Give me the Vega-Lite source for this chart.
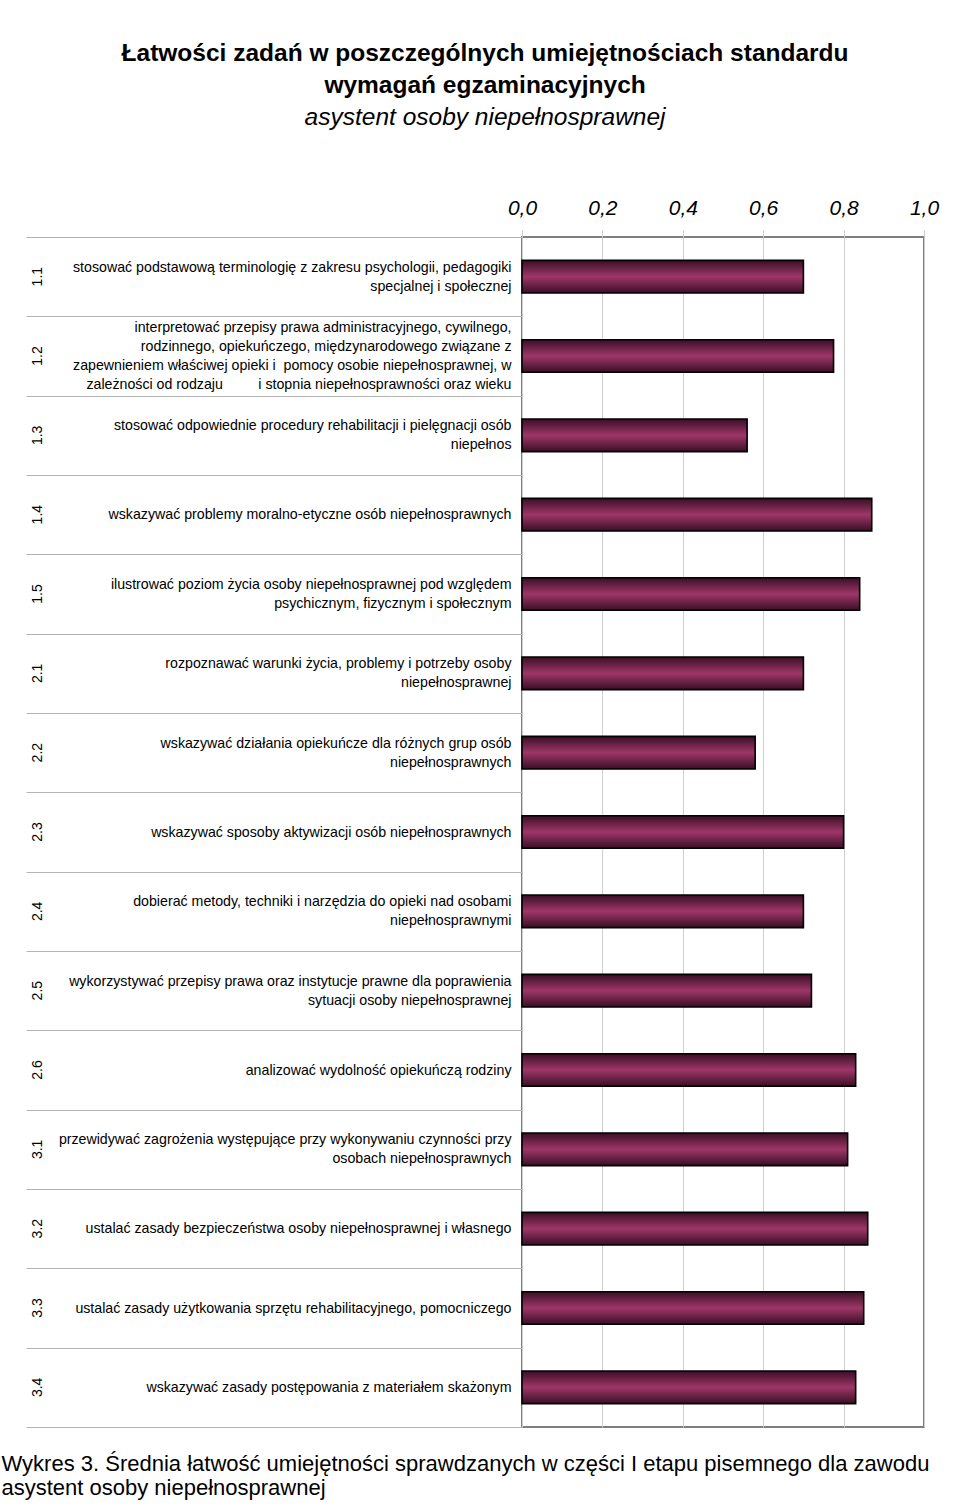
{
  "$schema": "https://vega.github.io/schema/vega-lite/v6.json",
  "background": "white",
  "padding": {"left": 1, "top": 40, "right": 20, "bottom": 4},
  "config": {
    "font": "Liberation Sans",
    "view": {"stroke": "#7f7f7f", "strokeWidth": 2}
  },
  "title": {
    "text": ["Wykres 3. Średnia łatwość umiejętności sprawdzanych w części I etapu pisemnego dla zawodu", "asystent osoby niepełnosprawnej"],
    "orient": "bottom",
    "anchor": "start",
    "frame": "bounds",
    "fontSize": 22,
    "fontWeight": "normal",
    "lineHeight": 24,
    "offset": 25,
    "dx": -23,
    "color": "black",
    "font": "Liberation Sans"
  },
  "vconcat": [
    {
      "title": {
        "text": ["Łatwości zadań w poszczególnych umiejętnościach standardu", "wymagań egzaminacyjnych"],
        "subtitle": "asystent osoby niepełnosprawnej",
        "fontSize": 24.5,
        "fontWeight": "bold",
        "lineHeight": 32,
        "subtitleFontSize": 24.5,
        "subtitleFontStyle": "italic",
        "subtitleColor": "black",
        "subtitlePadding": 7,
        "color": "black",
        "anchor": "middle",
        "frame": "bounds",
        "offset": 67,
        "dx": 3,
        "font": "Liberation Sans",
        "subtitleFont": "Liberation Sans"
      },
      "width": 402,
      "height": 1190,
      "data": {
        "values": [
          {"code": "1.1", "desc": "stosować podstawową terminologię z zakresu psychologii, pedagogiki\nspecjalnej i społecznej", "value": 0.70},
          {"code": "1.2", "desc": "interpretować przepisy prawa administracyjnego, cywilnego,\nrodzinnego, opiekuńczego, międzynarodowego związane z\nzapewnieniem właściwej opieki i\u00a0 pomocy osobie niepełnosprawnej, w\nzależności od rodzaju \u00a0\u00a0\u00a0\u00a0\u00a0\u00a0\u00a0\u00a0i stopnia niepełnosprawności oraz wieku", "value": 0.775},
          {"code": "1.3", "desc": "stosować odpowiednie procedury rehabilitacji i pielęgnacji osób\nniepełnos", "value": 0.56},
          {"code": "1.4", "desc": "wskazywać problemy moralno-etyczne osób niepełnosprawnych", "value": 0.87},
          {"code": "1.5", "desc": "ilustrować poziom życia osoby niepełnosprawnej pod względem\npsychicznym, fizycznym i społecznym", "value": 0.84},
          {"code": "2.1", "desc": "rozpoznawać warunki życia, problemy i potrzeby osoby\nniepełnosprawnej", "value": 0.70},
          {"code": "2.2", "desc": "wskazywać działania opiekuńcze dla różnych grup osób\nniepełnosprawnych", "value": 0.58},
          {"code": "2.3", "desc": "wskazywać sposoby aktywizacji osób niepełnosprawnych", "value": 0.80},
          {"code": "2.4", "desc": "dobierać metody, techniki i narzędzia do opieki nad osobami\nniepełnosprawnymi", "value": 0.70},
          {"code": "2.5", "desc": "wykorzystywać przepisy prawa oraz instytucje prawne dla poprawienia\nsytuacji osoby niepełnosprawnej", "value": 0.72},
          {"code": "2.6", "desc": "analizować wydolność opiekuńczą rodziny", "value": 0.83},
          {"code": "3.1", "desc": "przewidywać zagrożenia występujące przy wykonywaniu czynności przy\nosobach niepełnosprawnych", "value": 0.81},
          {"code": "3.2", "desc": "ustalać zasady bezpieczeństwa osoby niepełnosprawnej i własnego", "value": 0.86},
          {"code": "3.3", "desc": "ustalać zasady użytkowania sprzętu rehabilitacyjnego, pomocniczego", "value": 0.85},
          {"code": "3.4", "desc": "wskazywać zasady postępowania z materiałem skażonym", "value": 0.83}
        ]
      },
      "resolve": {"scale": {"y": "independent"}, "axis": {"y": "independent"}},
      "layer": [
        {
          "mark": {
            "type": "bar",
            "height": {"band": 0.41},
            "fill": {
              "gradient": "linear",
              "x1": 0, "y1": 0, "x2": 0, "y2": 1,
              "stops": [
                {"offset": 0, "color": "#3a0f25"},
                {"offset": 0.5, "color": "#9e3668"},
                {"offset": 1, "color": "#3a0f25"}
              ]
            },
            "strokeWidth": 0
          },
          "encoding": {
            "y": {
              "field": "code",
              "type": "nominal",
              "sort": null,
              "scale": {"paddingInner": 0, "paddingOuter": 0},
              "axis": {
                "orient": "left",
                "title": null,
                "ticks": false,
                "domain": false,
                "labelAngle": 270,
                "labelAlign": "center",
                "labelBaseline": "middle",
                "labelPadding": 485,
                "labelFontSize": 14,
                "labelColor": "black"
              }
            },
            "x": {
              "field": "value",
              "type": "quantitative",
              "scale": {"domain": [0, 1], "nice": false},
              "axis": {
                "orient": "top",
                "title": null,
                "values": [0, 0.2, 0.4, 0.6, 0.8, 1.0],
                "labelExpr": "replace(format(datum.value, '.1f'), '.', ',')",
                "labelFlush": false,
                "labelFontStyle": "italic",
                "labelFontSize": 21,
                "labelColor": "black",
                "labelPadding": 12,
                "tickSize": 7,
                "tickColor": "#cfcfcf",
                "grid": true,
                "gridColor": "#cfcfcf",
                "domain": false
              }
            }
          }
        },
        {
          "mark": {
            "type": "bar",
            "height": {"band": 0.41},
            "filled": false,
            "color": "black",
            "strokeWidth": 1.6
          },
          "encoding": {
            "y": {
              "field": "desc",
              "type": "nominal",
              "sort": null,
              "scale": {"paddingInner": 0, "paddingOuter": 0},
              "axis": {
                "orient": "left",
                "title": null,
                "tickBand": "extent",
                "tickSize": 496,
                "tickColor": "#b4b4b4",
                "tickWidth": 1,
                "domain": false,
                "labelPadding": -485,
                "labelExpr": "split(datum.label, '\\n')",
                "labelAlign": "right",
                "labelBaseline": "middle",
                "labelOffset": {
                  "condition": [
                    {"test": "length(split(datum.value, '\\n')) == 4", "value": -28.5},
                    {"test": "length(split(datum.value, '\\n')) == 2", "value": -9.5}
                  ],
                  "value": 0
                },
                "labelFontSize": 14.2,
                "labelLineHeight": 19,
                "labelLimit": 0,
                "labelColor": "black"
              }
            },
            "x": {"field": "value", "type": "quantitative"}
          }
        }
      ]
    }
  ]
}
